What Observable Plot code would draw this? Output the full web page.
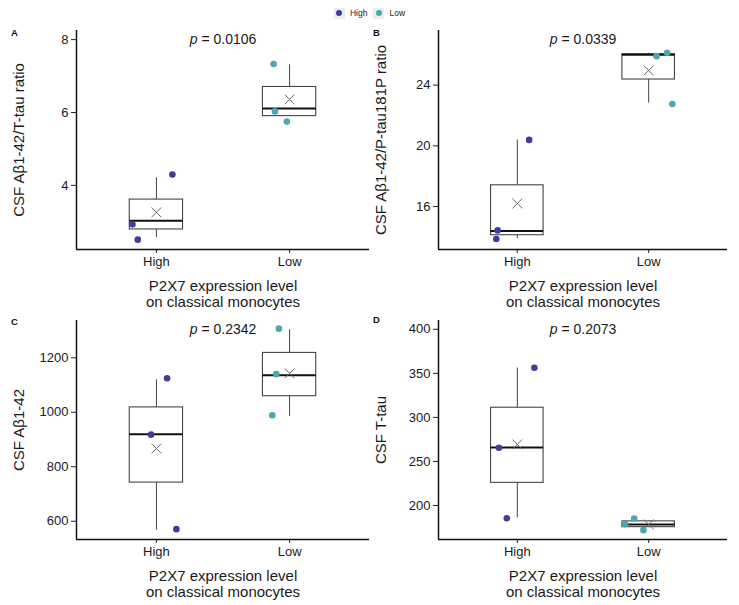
<!DOCTYPE html>
<html>
<head>
<meta charset="utf-8">
<script src="https://cdn.jsdelivr.net/npm/d3@7"></script>
<script src="https://cdn.jsdelivr.net/npm/@observablehq/plot@0.6"></script>
<style>
  html, body { margin: 0; padding: 0; background: #fff; }
  #root { position: relative; width: 739px; height: 605px; background: #fff; font-family: "Liberation Sans", Arial, sans-serif; overflow: hidden; }
  .panel { position: absolute; }
  .letter { position: absolute; font-weight: bold; font-size: 9.5px; color: #111; line-height: 1; }
  #legend { position: absolute; left: 0; top: 6px; width: 739px; height: 14px; display: flex; justify-content: center; align-items: center; font-size: 8.5px; color: #222; }
  .key { width: 11px; height: 11px; background: #ececec; display: inline-flex; align-items: center; justify-content: center; margin-right: 5px; }
  .key span { width: 6px; height: 6px; border-radius: 50%; display: block; }
  .item { display: inline-flex; align-items: center; margin: 0 3px; }
</style>
</head>
<body>
<div id="root"></div>
<script>
// ---------- data ----------
const groups = ["High", "Low"];
const groupColors = ["#3e3d9e", "#4ba7b1"];
const panelLetters = ["A", "B", "C", "D"];
const yTitles = ["CSF Aβ1-42/T-tau ratio", "CSF Aβ1-42/P-tau181P ratio", "CSF Aβ1-42", "CSF T-tau"];
const xTitle = "P2X7 expression level\non classical monocytes";
const pValues = ["0.0106", "0.0339", "0.2342", "0.2073"];
const yTicks = [[4, 6, 8], [16, 20, 24], [600, 800, 1000, 1200], [200, 250, 300, 350, 400]];
const yDomains = [[2.24, 8.25], [13.17, 27.6], [533, 1337], [161.4, 410]];

// individual points per panel
const pointsHigh = [[2.93, 2.51, 4.30], [13.86, 14.43, 20.39], [1125, 918, 571], [265.5, 185.6, 356.4]];
const pointsLow  = [[7.33, 6.03, 5.75], [25.91, 26.13, 22.76], [1307, 1140, 989], [178.8, 185.3, 172]];
// horizontal jitter (fraction of group spacing)
const jitterHigh = [[-0.18, -0.14, 0.12], [-0.16, -0.15, 0.09], [0.08, -0.04, 0.15], [-0.14, -0.08, 0.13]];
const jitterLow  = [[-0.12, -0.11, -0.02], [0.06, 0.14, 0.18], [-0.08, -0.10, -0.13], [-0.18, -0.11, -0.04]];

// box statistics per panel: [High, Low]
const q1          = [[2.79, 5.90], [14.11, 24.37], [742, 1059], [225.7, 175.4]];
const median      = [[3.03, 6.11], [14.39, 26.0], [919, 1136], [265.9, 178.4]];
const q3          = [[3.61, 6.70], [17.40, 26.04], [1018, 1218], [311, 182]];
const whiskerLow  = [[2.57, 5.90], [13.88, 22.82], [567, 985], [185.9, 175]];
const whiskerHigh = [[4.21, 7.31], [20.39, 26.1], [1119, 1303], [356, 182.5]];
const means       = [[3.26, 6.36], [16.2, 24.97], [867, 1143], [269.3, 178.5]];

// ---------- layout ----------
const root = document.getElementById("root");
const legend = document.createElement("div");
legend.id = "legend";
groups.forEach((g, i) => {
  const it = document.createElement("div");
  it.className = "item";
  it.innerHTML = `<div class="key"><span style="background:${groupColors[i]}"></span></div>${g}`;
  legend.appendChild(it);
});
root.appendChild(legend);

const panelPos = [
  {left: 0, top: 20, width: 372, marginRight: 3, letterX: 11, letterY: 28},
  {left: 362, top: 20, width: 377, marginRight: 12, letterX: 373, letterY: 28},
  {left: 0, top: 310, width: 372, marginRight: 3, letterX: 11, letterY: 317},
  {left: 362, top: 310, width: 377, marginRight: 12, letterX: 373, letterY: 315}
];

function makePanel(k) {
  const pts = [];
  pointsHigh[k].forEach((v, j) => pts.push({g: 0, x: 1 + jitterHigh[k][j], y: v}));
  pointsLow[k].forEach((v, j) => pts.push({g: 1, x: 2 + jitterLow[k][j], y: v}));
  const boxes = groups.map((g, gi) => ({
    g: gi, x: gi + 1, x1: gi + 1 - 0.2, x2: gi + 1 + 0.2,
    q1: q1[k][gi], med: median[k][gi], q3: q3[k][gi],
    lo: whiskerLow[k][gi], hi: whiskerHigh[k][gi], mean: means[k][gi]
  }));
  const pos = panelPos[k];
  const chart = Plot.plot({
    width: pos.width,
    height: 290,
    marginLeft: 76,
    marginRight: pos.marginRight,
    marginTop: 10,
    marginBottom: 61,
    style: {fontFamily: "'Liberation Sans', Arial, sans-serif", fontSize: "13px", color: "#1a1a1a", background: "transparent", overflow: "visible"},
    x: {domain: [0.4, 2.6], axis: null},
    y: {domain: yDomains[k], axis: null},
    marks: [
      Plot.ruleX(boxes, {x: "x", y1: "lo", y2: "hi", stroke: "#444", strokeWidth: 1}),
      Plot.rect(boxes, {x1: "x1", x2: "x2", y1: "q1", y2: "q3", fill: "white", stroke: "#444", strokeWidth: 1.1}),
      Plot.ruleY(boxes, {x1: "x1", x2: "x2", y: "med", stroke: "#111", strokeWidth: 2}),
      Plot.dot(boxes, {x: "x", y: "mean", symbol: "times", r: 4.5, stroke: "#666", strokeWidth: 1}),
      Plot.dot(pts, {x: "x", y: "y", r: 3.3, fill: d => groupColors[d.g], stroke: "none"}),
      Plot.axisY({ticks: yTicks[k], tickFormat: d => String(d), tickSize: 5, tickPadding: 3, fontSize: 13, label: null, stroke: "#222"}),
      Plot.axisX({ticks: [1, 2], tickFormat: d => groups[d - 1], tickSize: 4, tickPadding: 3, fontSize: 13, label: null, stroke: "#222"}),
      Plot.ruleX([0.4], {stroke: "#111", strokeWidth: 1.5}),
      Plot.ruleY([yDomains[k][0]], {stroke: "#111", strokeWidth: 1.5}),
      Plot.text([pValues[k]], {frameAnchor: "top", dy: 9, lineAnchor: "middle", text: d => "p = " + d, fontSize: 14, fill: "#1a1a1a", className: "pval"}),
      Plot.text([yTitles[k]], {frameAnchor: "left", dx: -57, rotate: -90, textAnchor: "middle", lineAnchor: "middle", text: d => d, fontSize: 15, fill: "#1a1a1a"}),
      Plot.text([xTitle], {frameAnchor: "bottom", dy: 44, textAnchor: "middle", lineAnchor: "middle", text: d => d, fontSize: 15, lineHeight: 1.1, fill: "#1a1a1a"})
    ]
  });
  // italic p
  d3.select(chart).selectAll("g.pval text").each(function () {
    const t = this.textContent;
    const rest = t.replace(/^p/, "");
    this.textContent = "";
    d3.select(this).append("tspan").attr("font-style", "italic").text("p");
    d3.select(this).append("tspan").text(rest);
  });
  chart.classList.add("panel");
  chart.style.left = pos.left + "px";
  chart.style.top = pos.top + "px";
  chart.style.position = "absolute";
  root.appendChild(chart);

  const letter = document.createElement("div");
  letter.className = "letter";
  letter.textContent = panelLetters[k];
  letter.style.left = pos.letterX + "px";
  letter.style.top = pos.letterY + "px";
  root.appendChild(letter);
}

[0, 1, 2, 3].forEach(makePanel);
</script>
</body>
</html>
